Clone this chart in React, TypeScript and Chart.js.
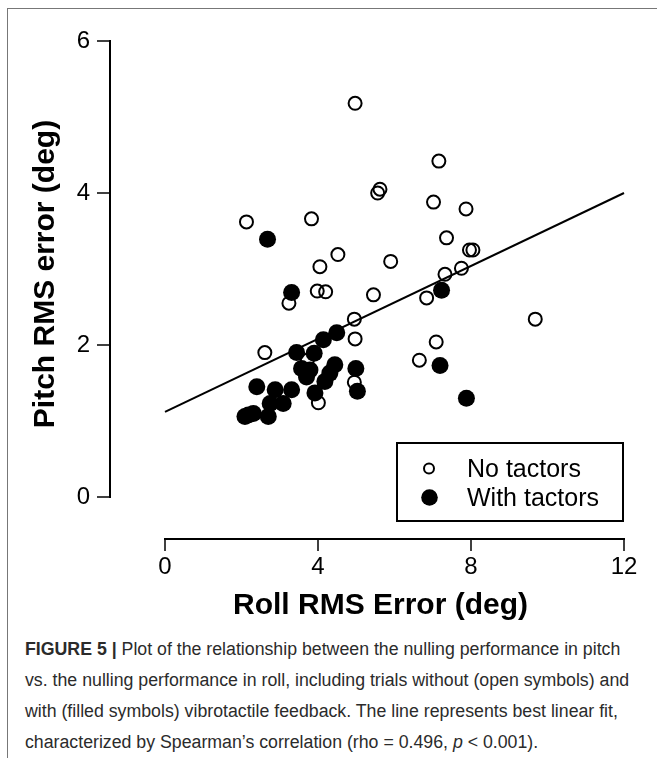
import React, { useEffect, useRef } from "react";
import { Chart, registerables } from "chart.js";

Chart.register(...registerables);

// Open symbols: trials without tactors
const noTactorsX = [4.97, 5.62, 5.56, 2.13, 3.83, 4.52, 4.05, 5.9, 7.16, 7.02, 7.87, 7.36, 7.96, 8.05, 7.75, 7.32, 3.24, 3.98, 4.2, 5.45, 4.95, 4.97, 2.61, 4.95, 4.01, 6.84, 9.68, 7.09, 6.65, 3.72];
const noTactorsY = [5.18, 4.05, 4.0, 3.62, 3.66, 3.19, 3.03, 3.1, 4.42, 3.88, 3.79, 3.41, 3.25, 3.25, 3.01, 2.93, 2.55, 2.71, 2.7, 2.66, 2.34, 2.08, 1.9, 1.51, 1.24, 2.62, 2.34, 2.04, 1.8, 1.8];

// Filled symbols: trials with tactors
const withTactorsX = [2.68, 3.31, 7.23, 7.19, 7.88, 4.49, 4.14, 3.44, 3.9, 3.57, 3.7, 4.44, 4.31, 4.18, 4.99, 5.03, 3.92, 2.4, 2.88, 3.31, 2.75, 3.09, 2.18, 2.7, 2.09, 2.31, 3.79];
const withTactorsY = [3.39, 2.69, 2.72, 1.73, 1.3, 2.16, 2.07, 1.9, 1.89, 1.69, 1.58, 1.74, 1.63, 1.52, 1.69, 1.39, 1.37, 1.45, 1.41, 1.41, 1.23, 1.23, 1.08, 1.06, 1.06, 1.1, 1.67];

// Best linear fit
const fitX = [0, 12];
const fitY = [1.12, 4.0];

const xTicks = [0, 4, 8, 12];
const yTicks = [0, 2, 4, 6];
const xTitle = "Roll RMS Error (deg)";
const yTitle = "Pitch RMS error (deg)";
const legendLabels = ["No tactors", "With tactors"];

const captionBold = "FIGURE 5 |";
const captionLines = [
  " Plot of the relationship between the nulling performance in pitch",
  "vs. the nulling performance in roll, including trials without (open symbols) and",
  "with (filled symbols) vibrotactile feedback. The line represents best linear fit,",
  "characterized by Spearman\u2019s correlation (rho = 0.496, ",
];

const FONT = '"Liberation Sans", Arial, Helvetica, sans-serif';

const axesPlugin = {
  id: "detachedAxes",
  afterDraw(chart: any) {
    const { ctx, chartArea } = chart;
    const xs = chart.scales.x;
    const ys = chart.scales.y;
    ctx.save();
    ctx.strokeStyle = "#000";
    ctx.fillStyle = "#000";
    ctx.lineWidth = 2;
    ctx.lineCap = "butt";

    // X axis (detached below plot)
    const axY = chartArea.bottom + 42;
    ctx.beginPath();
    ctx.moveTo(xs.getPixelForValue(xTicks[0]) - 1, axY);
    ctx.lineTo(xs.getPixelForValue(xTicks[xTicks.length - 1]) + 1, axY);
    ctx.stroke();
    ctx.font = `24px ${FONT}`;
    ctx.textAlign = "center";
    ctx.textBaseline = "alphabetic";
    xTicks.forEach((t) => {
      const px = xs.getPixelForValue(t);
      ctx.beginPath();
      ctx.moveTo(px, axY);
      ctx.lineTo(px, axY + 12);
      ctx.lineWidth = 1.5;
      ctx.stroke();
      ctx.fillText(String(t), px, axY + 35);
    });

    // Y axis (detached left of plot)
    const axX = chartArea.left - 55;
    ctx.lineWidth = 2;
    ctx.beginPath();
    ctx.moveTo(axX, ys.getPixelForValue(yTicks[0]) + 1);
    ctx.lineTo(axX, ys.getPixelForValue(yTicks[yTicks.length - 1]) - 1);
    ctx.stroke();
    ctx.textAlign = "right";
    yTicks.forEach((t) => {
      const py = ys.getPixelForValue(t);
      ctx.beginPath();
      ctx.moveTo(axX, py);
      ctx.lineTo(axX - 13, py);
      ctx.lineWidth = 1.5;
      ctx.stroke();
      ctx.fillText(String(t), axX - 20, py + 7);
    });

    // Axis titles
    ctx.font = `bold 30px ${FONT}`;
    ctx.textAlign = "center";
    ctx.fillText(xTitle, (chartArea.left + chartArea.right) / 2 - 14, axY + 75);
    ctx.save();
    ctx.translate(54, (chartArea.top + chartArea.bottom) / 2 + 5);
    ctx.rotate(-Math.PI / 2);
    ctx.fillText(yTitle, 0, 0);
    ctx.restore();

    // Legend box
    const bx = chartArea.right - 227;
    const by = chartArea.bottom - 54;
    const bw = 226;
    const bh = 78;
    ctx.fillStyle = "#fff";
    ctx.fillRect(bx, by, bw, bh);
    ctx.strokeStyle = "#000";
    ctx.lineWidth = 2;
    ctx.strokeRect(bx, by, bw, bh);
    ctx.fillStyle = "#000";
    // open symbol
    ctx.beginPath();
    ctx.arc(bx + 32, by + 25.5, 5, 0, Math.PI * 2);
    ctx.lineWidth = 2;
    ctx.stroke();
    // filled symbol
    ctx.beginPath();
    ctx.arc(bx + 32.5, by + 54.5, 8.3, 0, Math.PI * 2);
    ctx.fill();
    ctx.font = `25px ${FONT}`;
    ctx.textAlign = "left";
    ctx.textBaseline = "alphabetic";
    ctx.fillText(legendLabels[0], bx + 70, by + 34);
    ctx.fillText(legendLabels[1], bx + 70, by + 63);
    ctx.restore();
  },
};

export default function App() {
  const canvasRef = useRef<HTMLCanvasElement | null>(null);

  useEffect(() => {
    const canvas = canvasRef.current;
    if (!canvas) return;
    const chart = new Chart(canvas, {
      type: "scatter",
      data: {
        datasets: [
          {
            type: "scatter",
            label: legendLabels[1],
            data: withTactorsX.map((x, i) => ({ x, y: withTactorsY[i] })),
            pointRadius: 8.5,
            pointBorderWidth: 0,
            pointBackgroundColor: "#000",
            pointBorderColor: "#000",
            order: 1,
            clip: false,
          },
          {
            type: "scatter",
            label: legendLabels[0],
            data: noTactorsX.map((x, i) => ({ x, y: noTactorsY[i] })),
            pointRadius: 6.5,
            pointBorderWidth: 2,
            pointBackgroundColor: "rgba(0,0,0,0)",
            pointBorderColor: "#000",
            order: 2,
            clip: false,
          },
          {
            type: "line",
            label: "fit",
            data: fitX.map((x, i) => ({ x, y: fitY[i] })),
            borderColor: "#000",
            borderWidth: 2,
            pointRadius: 0,
            fill: false,
            order: 3,
            clip: false,
          },
        ],
      } as any,
      options: {
        responsive: false,
        animation: false,
        devicePixelRatio: 1,
        layout: { padding: { left: 165, right: 33, top: 41, bottom: 133 } },
        scales: {
          x: { type: "linear", min: 0, max: 12, display: false },
          y: { type: "linear", min: 0, max: 6, display: false },
        },
        plugins: {
          legend: { display: false },
          tooltip: { enabled: false },
        },
        events: [],
      },
      plugins: [axesPlugin],
    });
    return () => chart.destroy();
  }, []);

  return (
    <div
      style={{
        position: "fixed",
        left: 0,
        top: 0,
        width: 657,
        height: 758,
        background: "#fff",
        overflow: "hidden",
      }}
    >
      <div
        style={{
          position: "absolute",
          left: 7,
          top: 8,
          width: 700,
          height: 800,
          borderLeft: "1px solid #777",
          borderTop: "1px solid #777",
        }}
      />
      <canvas
        ref={canvasRef}
        width={657}
        height={630}
        style={{ position: "absolute", left: 0, top: 0, width: 657, height: 630 }}
      />
      <div
        style={{
          position: "absolute",
          left: 25,
          top: 634,
          fontFamily: FONT,
          fontSize: 18,
          lineHeight: "31px",
          color: "#2b2b2b",
          whiteSpace: "nowrap",
          transform: "scaleX(0.985)",
          transformOrigin: "left top",
        }}
      >
        <div>
          <b>{captionBold}</b>
          {captionLines[0]}
        </div>
        <div>{captionLines[1]}</div>
        <div>{captionLines[2]}</div>
        <div>
          {captionLines[3]}
          <i>p</i>
          {" < 0.001)."}
        </div>
      </div>
    </div>
  );
}
